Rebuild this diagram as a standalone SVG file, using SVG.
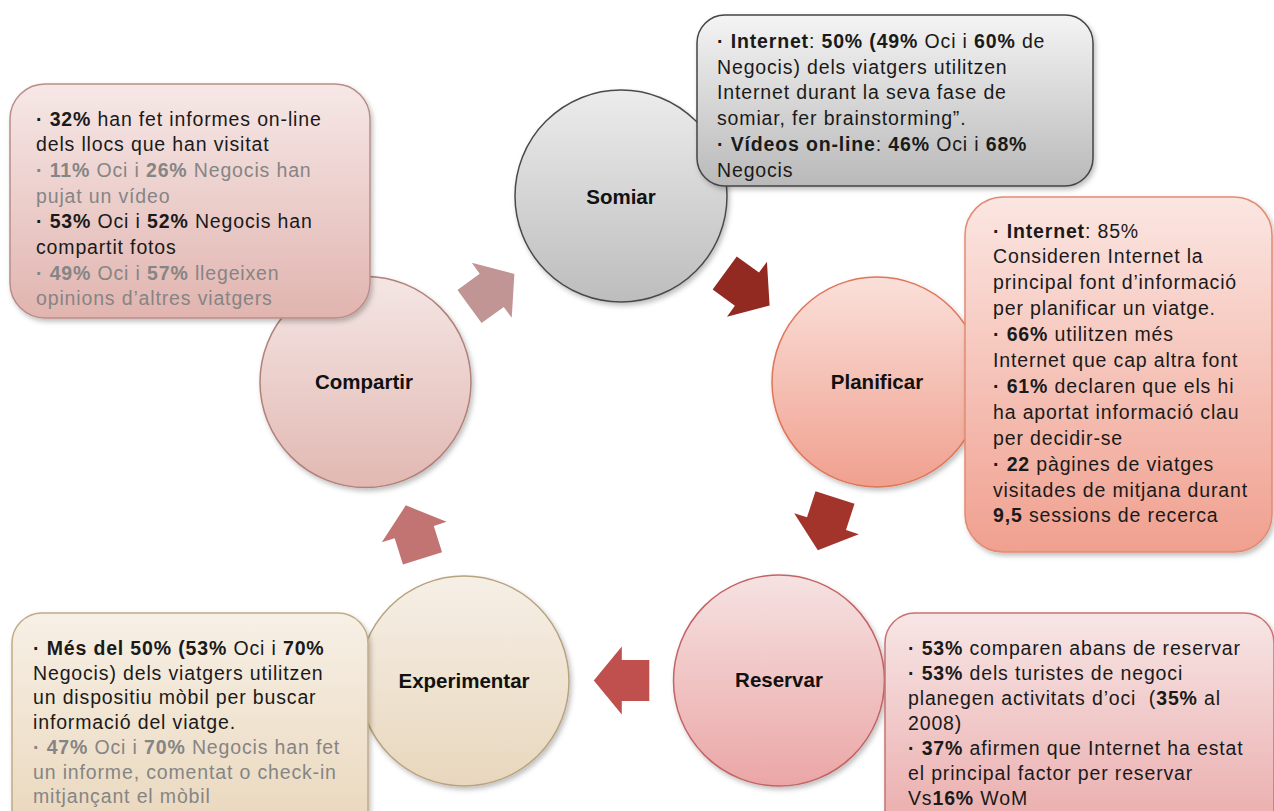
<svg xmlns="http://www.w3.org/2000/svg" width="1274" height="811" viewBox="0 0 1274 811">
<defs>
<linearGradient id="gGray" x1="0" y1="0" x2="0" y2="1"><stop offset="0" stop-color="#ececec"/><stop offset="1" stop-color="#bdbdbd"/></linearGradient>
<linearGradient id="gGrayBox" x1="0" y1="0" x2="0" y2="1"><stop offset="0" stop-color="#f4f4f4"/><stop offset="1" stop-color="#b9b9b9"/></linearGradient>
<linearGradient id="gPlan" x1="0" y1="0" x2="0" y2="1"><stop offset="0" stop-color="#fae0da"/><stop offset="1" stop-color="#f0a08e"/></linearGradient>
<linearGradient id="gPlanBox" x1="0" y1="0" x2="0" y2="1"><stop offset="0" stop-color="#fbe6e2"/><stop offset="1" stop-color="#f0a08f"/></linearGradient>
<linearGradient id="gRes" x1="0" y1="0" x2="0" y2="1"><stop offset="0" stop-color="#f6e2e2"/><stop offset="1" stop-color="#eba6a6"/></linearGradient>
<linearGradient id="gResBox" x1="0" y1="0" x2="0" y2="1"><stop offset="0" stop-color="#f7e6e6"/><stop offset="1" stop-color="#eaa8a8"/></linearGradient>
<linearGradient id="gExp" x1="0" y1="0" x2="0" y2="1"><stop offset="0" stop-color="#f6efe6"/><stop offset="1" stop-color="#e8d7bd"/></linearGradient>
<linearGradient id="gExpBox" x1="0" y1="0" x2="0" y2="1"><stop offset="0" stop-color="#f7f0e6"/><stop offset="1" stop-color="#e9d6ba"/></linearGradient>
<linearGradient id="gComp" x1="0" y1="0" x2="0" y2="1"><stop offset="0" stop-color="#f4e6e4"/><stop offset="1" stop-color="#e2b8b2"/></linearGradient>
<linearGradient id="gCompBox" x1="0" y1="0" x2="0" y2="1"><stop offset="0" stop-color="#f6e8e7"/><stop offset="1" stop-color="#e1b4af"/></linearGradient>
<filter id="sh" x="-10%" y="-10%" width="125%" height="125%"><feDropShadow dx="2" dy="3" stdDeviation="2.5" flood-color="#000" flood-opacity="0.25"/></filter>
<polygon id="arr" points="0,-20.5 27.5,-20.5 27.5,-34 55.5,0 27.5,34 27.5,20.5 0,20.5"/>
</defs>
<style>
.lbl{font-family:"Liberation Sans",Arial,sans-serif;font-weight:bold;font-size:20.5px;fill:#111;text-anchor:middle}
.t{font-family:"Liberation Sans",Arial,sans-serif;font-size:19.5px;letter-spacing:0.85px;fill:#1a1a1a}
.g{fill:#858585}
.b{font-weight:bold}
.circle{stroke-width:1.5}
.box{stroke-width:1.5}
</style>
<rect width="1274" height="811" fill="#ffffff"/>

<g id="connectors">
<use href="#arr" fill="#c09594" transform="translate(469.5,306.5) rotate(-36)"/>
<use href="#arr" fill="#922a22" transform="translate(724.7,273) rotate(36)"/>
<use href="#arr" fill="#a2342b" transform="translate(835,497.5) rotate(108)"/>
<use href="#arr" fill="#c0504d" transform="translate(649.3,680.5) rotate(180)"/>
<use href="#arr" fill="#c27473" transform="translate(422.5,558.3) rotate(-107.5)"/>
</g>

<g id="somiar">
<circle cx="621" cy="196" r="106" fill="url(#gGray)" stroke="#4a4a4a" class="circle" filter="url(#sh)"/>
<text class="lbl" x="621" y="204">Somiar</text>
</g>
<g id="planificar">
<circle cx="877" cy="382" r="105" fill="url(#gPlan)" stroke="#e07458" class="circle" filter="url(#sh)"/>
<text class="lbl" x="877" y="389">Planificar</text>
</g>
<g id="reservar">
<circle cx="779" cy="680.5" r="105.5" fill="url(#gRes)" stroke="#c46464" class="circle" filter="url(#sh)"/>
<text class="lbl" x="779" y="687">Reservar</text>
</g>
<g id="experimentar">
<circle cx="464" cy="681" r="105" fill="url(#gExp)" stroke="#b8a37f" class="circle" filter="url(#sh)"/>
<text class="lbl" x="464" y="688">Experimentar</text>
</g>
<g id="compartir">
<circle cx="365.5" cy="382" r="105.5" fill="url(#gComp)" stroke="#b0817a" class="circle" filter="url(#sh)"/>
<text class="lbl" x="364" y="389">Compartir</text>
</g>

<g id="box-compartir">
<rect x="10" y="84" width="360" height="234" rx="35" fill="url(#gCompBox)" stroke="#b98d88" class="box" filter="url(#sh)"/>
<text class="t" x="36" y="125.5"><tspan class="b">·</tspan> <tspan class="b">32%</tspan> han fet informes on-line</text>
<text class="t" x="36" y="151.2">dels llocs que han visitat</text>
<text class="t g" x="36" y="176.9"><tspan class="b">·</tspan> <tspan class="b">11%</tspan> Oci i <tspan class="b">26%</tspan> Negocis han</text>
<text class="t g" x="36" y="202.6">pujat un vídeo</text>
<text class="t" x="36" y="228.3"><tspan class="b">·</tspan> <tspan class="b">53%</tspan> Oci i <tspan class="b">52%</tspan> Negocis han</text>
<text class="t" x="36" y="254">compartit fotos</text>
<text class="t g" x="36" y="279.7"><tspan class="b">·</tspan> <tspan class="b">49%</tspan> Oci i <tspan class="b">57%</tspan> llegeixen</text>
<text class="t g" x="36" y="305.4">opinions d’altres viatgers</text>
</g>

<g id="box-somiar">
<rect x="697" y="15" width="396" height="171" rx="28" fill="url(#gGrayBox)" stroke="#444444" class="box" filter="url(#sh)"/>
<text class="t" x="717" y="48"><tspan class="b">·</tspan> <tspan class="b">Internet</tspan>: <tspan class="b">50% (49%</tspan> Oci i <tspan class="b">60%</tspan> de</text>
<text class="t" x="717" y="73.7">Negocis) dels viatgers utilitzen</text>
<text class="t" x="717" y="99.4">Internet durant la seva fase de</text>
<text class="t" x="717" y="125.1">somiar, fer brainstorming”.</text>
<text class="t" x="717" y="150.8"><tspan class="b">·</tspan> <tspan class="b">Vídeos on-line</tspan>: <tspan class="b">46%</tspan> Oci i <tspan class="b">68%</tspan></text>
<text class="t" x="717" y="176.5">Negocis</text>
</g>

<g id="box-planificar">
<rect x="965" y="197" width="307" height="355" rx="38" fill="url(#gPlanBox)" stroke="#e38a72" class="box" filter="url(#sh)"/>
<text class="t" x="993" y="237.5"><tspan class="b">·</tspan> <tspan class="b">Internet</tspan>: 85%</text>
<text class="t" x="993" y="263.4">Consideren Internet la</text>
<text class="t" x="993" y="289.3">principal font d’informació</text>
<text class="t" x="993" y="315.2">per planificar un viatge.</text>
<text class="t" x="993" y="341.1"><tspan class="b">·</tspan> <tspan class="b">66%</tspan> utilitzen més</text>
<text class="t" x="993" y="367">Internet que cap altra font</text>
<text class="t" x="993" y="392.9"><tspan class="b">·</tspan> <tspan class="b">61%</tspan> declaren que els hi</text>
<text class="t" x="993" y="418.8">ha aportat informació clau</text>
<text class="t" x="993" y="444.7">per decidir-se</text>
<text class="t" x="993" y="470.6"><tspan class="b">·</tspan> <tspan class="b">22</tspan> pàgines de viatges</text>
<text class="t" x="993" y="496.5">visitades de mitjana durant</text>
<text class="t" x="993" y="522.4"><tspan class="b">9,5</tspan> sessions de recerca</text>
</g>

<g id="box-reservar">
<rect x="885" y="613" width="389" height="230" rx="30" fill="url(#gResBox)" stroke="#c97272" class="box" filter="url(#sh)"/>
<text class="t" x="908" y="655"><tspan class="b">·</tspan> <tspan class="b">53%</tspan> comparen abans de reservar</text>
<text class="t" x="908" y="680"><tspan class="b">·</tspan> <tspan class="b">53%</tspan> dels turistes de negoci</text>
<text class="t" x="908" y="705">planegen activitats d’oci &#160;(<tspan class="b">35%</tspan> al</text>
<text class="t" x="908" y="730">2008)</text>
<text class="t" x="908" y="755"><tspan class="b">·</tspan> <tspan class="b">37%</tspan> afirmen que Internet ha estat</text>
<text class="t" x="908" y="780">el principal factor per reservar</text>
<text class="t" x="908" y="805">Vs<tspan class="b">16%</tspan> WoM</text>
</g>

<g id="box-experimentar">
<rect x="12" y="613" width="356" height="230" rx="30" fill="url(#gExpBox)" stroke="#c2ab86" class="box" filter="url(#sh)"/>
<text class="t" x="33" y="655"><tspan class="b">·</tspan> <tspan class="b">Més del 50% (53%</tspan> Oci i <tspan class="b">70%</tspan></text>
<text class="t" x="33" y="679.7">Negocis) dels viatgers utilitzen</text>
<text class="t" x="33" y="704.4">un dispositiu mòbil per buscar</text>
<text class="t" x="33" y="729.1">informació del viatge.</text>
<text class="t g" x="33" y="753.8"><tspan class="b">·</tspan> <tspan class="b">47%</tspan> Oci i <tspan class="b">70%</tspan> Negocis han fet</text>
<text class="t g" x="33" y="778.5">un informe, comentat o check-in</text>
<text class="t g" x="33" y="803.2">mitjançant el mòbil</text>
</g>
</svg>
